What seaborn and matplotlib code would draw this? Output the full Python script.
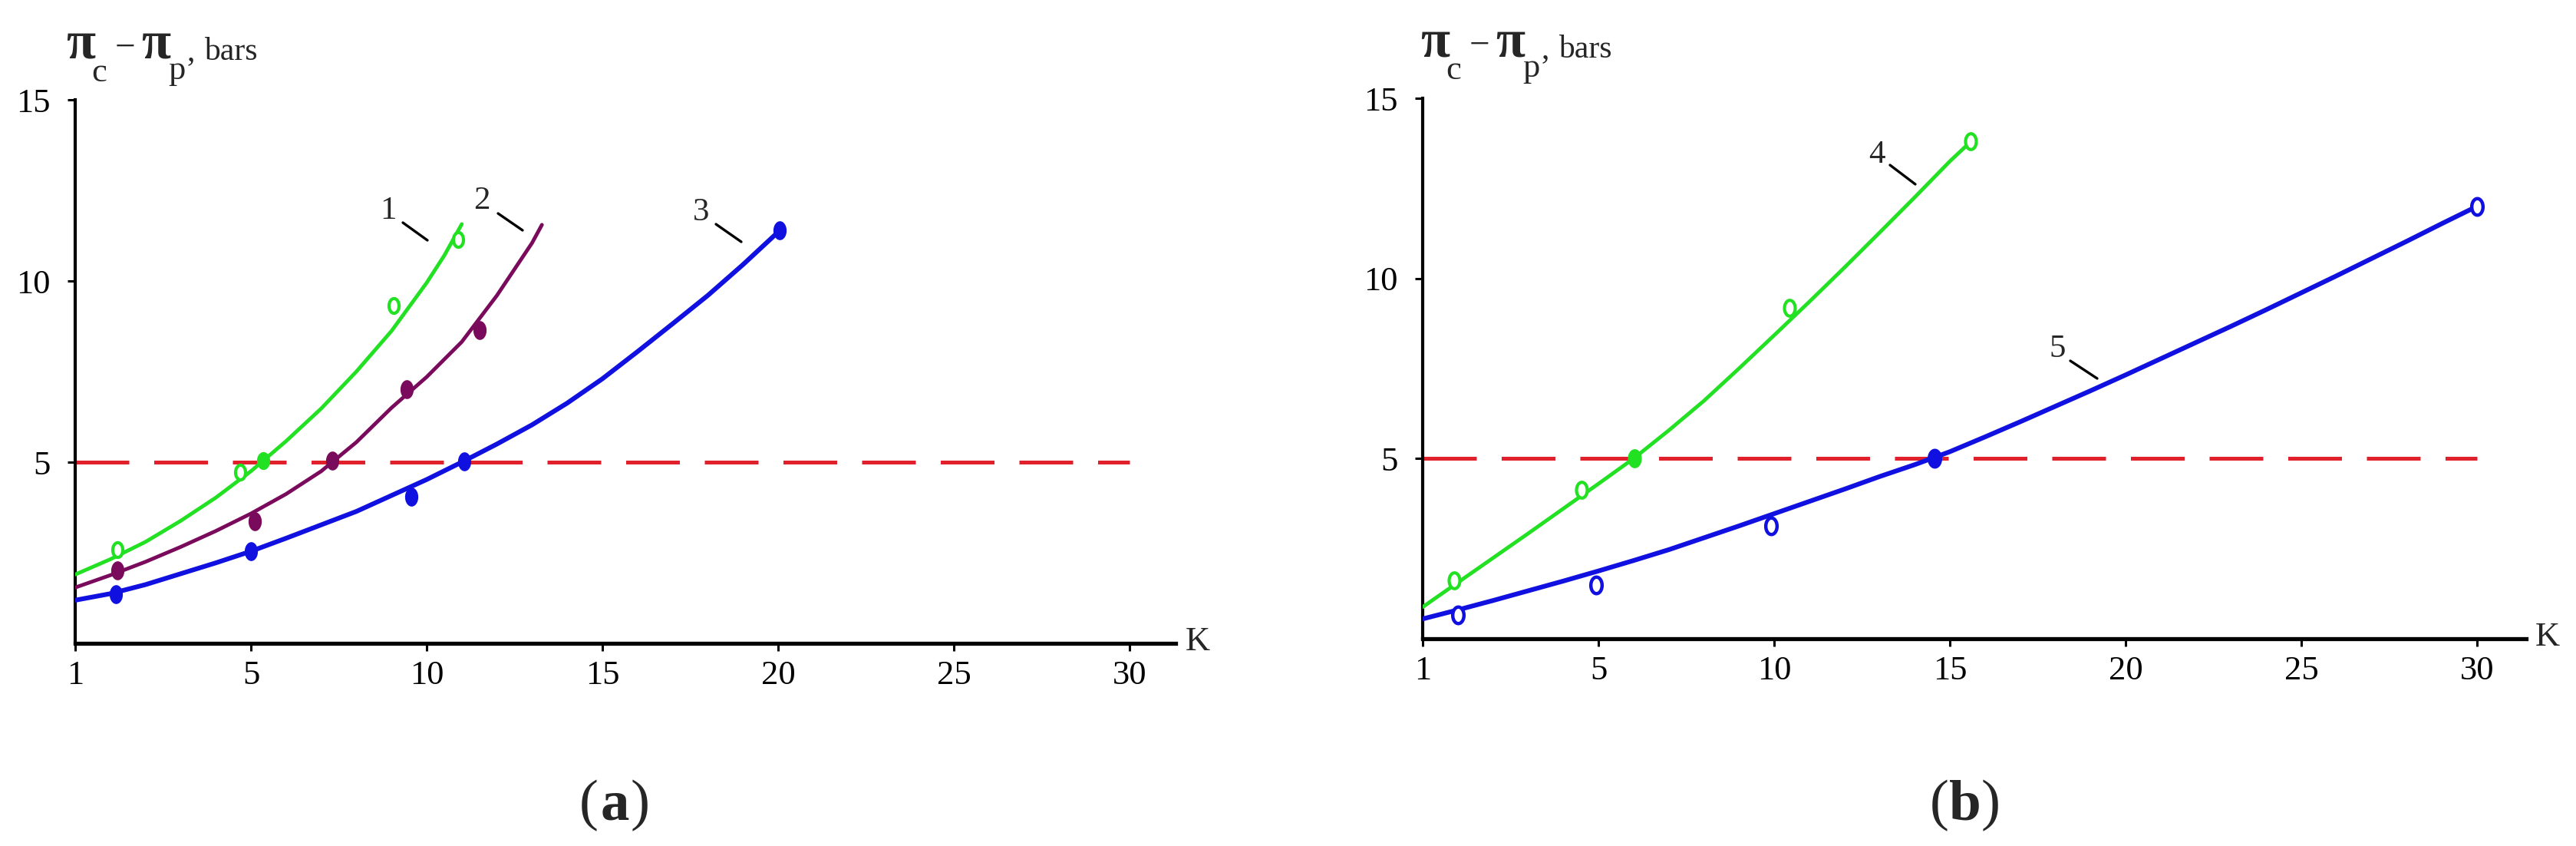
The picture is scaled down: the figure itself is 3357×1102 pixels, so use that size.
import numpy as np
import pandas as pd
import matplotlib
matplotlib.use("Agg")
import matplotlib.pyplot as plt
import seaborn as sns
from matplotlib.path import Path

# ---------------- data ----------------
# x is in axis units: the origin is labelled "1", then 5, 10, ... 30
x_tick_pos = [0, 5, 10, 15, 20, 25, 30]
x_tick_lab = ["1", "5", "10", "15", "20", "25", "30"]
y_tick_pos = [5, 10, 15]
threshold = 5.0

# panel (a) fitted curves
a1_curve_x = [0, 1, 2, 3, 4, 5, 6, 7, 8, 9, 10, 10.5, 11.0]
a1_curve_y = [1.9, 2.32, 2.8, 3.38, 4.02, 4.75, 5.58, 6.48, 7.5, 8.62, 9.95, 10.7, 11.57]
a2_curve_x = [0, 1, 2, 3, 4, 5, 6, 7, 8, 9, 10, 11, 12, 13, 13.28]
a2_curve_y = [1.54, 1.88, 2.25, 2.66, 3.1, 3.58, 4.12, 4.75, 5.55, 6.5, 7.35, 8.32, 9.6, 11.05, 11.55]
a3_curve_x = [0, 1, 2, 3, 4, 5, 6, 7, 8, 9, 10, 11, 12, 13, 14, 15, 16, 17, 18, 19, 20, 20.1]
a3_curve_y = [1.19, 1.37, 1.62, 1.92, 2.22, 2.54, 2.9, 3.27, 3.64, 4.08, 4.52, 5.0, 5.5, 6.03,
              6.63, 7.3, 8.05, 8.82, 9.6, 10.45, 11.35, 11.45]
# panel (a) measured points
a1_pts_x = [1.19, 4.7, 5.36, 9.06, 10.9]
a1_pts_y = [2.59, 4.73, 5.05, 9.32, 11.15]
a1_filled = [False, False, True, False, False]
a2_pts_x = [1.21, 5.1, 7.32, 9.44, 11.51]
a2_pts_y = [2.01, 3.36, 5.05, 7.02, 8.64]
a3_pts_x = [1.16, 5.01, 9.56, 11.07, 20.05]
a3_pts_y = [1.36, 2.54, 4.05, 5.02, 11.4]

# panel (b) fitted curves
b4_curve_x = [0, 1, 2, 3, 4, 5, 6, 7, 8, 9, 10, 11, 12, 13, 14, 15, 15.6]
b4_curve_y = [0.88, 1.56, 2.24, 2.92, 3.61, 4.3, 5.0, 5.78, 6.6, 7.5, 8.42, 9.35, 10.3,
              11.27, 12.25, 13.25, 13.8]
b5_curve_x = list(range(0, 31))
b5_curve_y = [0.55, 0.8, 1.06, 1.33, 1.6, 1.88, 2.17, 2.47, 2.8, 3.13, 3.47, 3.81, 4.15, 4.5,
              4.83, 5.19, 5.6, 6.02, 6.45, 6.88, 7.32, 7.77, 8.22, 8.67, 9.13, 9.6, 10.07,
              10.55, 11.03, 11.52, 12.0]
# panel (b) measured points
b4_pts_x = [0.89, 4.52, 6.03, 10.44, 15.6]
b4_pts_y = [1.62, 4.13, 5.0, 9.18, 13.8]
b4_filled = [False, False, True, False, False]
b5_pts_x = [1.01, 4.93, 9.91, 14.56, 30.0]
b5_pts_y = [0.65, 1.5, 3.13, 5.0, 12.0]
b5_filled = [False, False, False, True, False]

curve_labels_a = ["1", "2", "3"]
curve_labels_b = ["4", "5"]

# ---------------- style ----------------
GREEN = "#22E022"
PURPLE = "#7A0A5C"
BLUE = "#1010E0"
RED = "#E0202A"

sns.set_theme(style="white")
plt.rcParams["font.family"] = ["Liberation Serif", "DejaVu Serif"]

W, H = 3357, 1102
fig = plt.figure(figsize=(W / 100, H / 100), dpi=100)
fig.patch.set_facecolor("white")

ax_a = fig.add_axes([98 / W, 1 - 838 / H, 1433.5 / W, 708 / H])
ax_b = fig.add_axes([1854 / W, 1 - 832 / H, 1438 / W, 704 / H])

t = np.linspace(0, 2 * np.pi, 48)
ellipse = Path(np.column_stack([0.68 * np.cos(t), np.sin(t)]), closed=True)


def style_axes(ax, xmax):
    ax.set_xlim(0, xmax)
    ax.set_ylim(0, 15)
    for s in ("top", "right"):
        ax.spines[s].set_visible(False)
    ax.spines["left"].set_linewidth(3)
    ax.spines["bottom"].set_linewidth(3.8)
    ax.spines["left"].set_color("black")
    ax.spines["bottom"].set_color("black")
    ax.set_xticks(x_tick_pos)
    ax.set_xticklabels(x_tick_lab)
    ax.set_yticks(y_tick_pos)
    ax.set_yticklabels([str(v) for v in y_tick_pos])
    ax.tick_params(axis="x", direction="out", length=7, width=2.2, pad=9,
                   labelsize=32, colors="black", bottom=True)
    ax.tick_params(axis="y", direction="out", length=7, width=2.2, pad=16,
                   labelsize=32, colors="black", left=True)
    ax.set_xlabel("")
    ax.set_ylabel("")
    ax.grid(False)
    ax.set_facecolor("white")


def draw_curve(ax, xs, ys, color, lw):
    df = pd.DataFrame({"x": xs, "y": ys})
    sns.lineplot(data=df, x="x", y="y", ax=ax, color=color, linewidth=lw,
                 estimator=None, sort=False, zorder=3)


def draw_points(ax, xs, ys, color, filled, size, ew):
    df = pd.DataFrame({"x": xs, "y": ys, "f": filled})
    for is_filled, sub in df.groupby("f"):
        sns.scatterplot(data=sub, x="x", y="y", ax=ax, marker=ellipse, s=size,
                        facecolor=color if is_filled else "white",
                        edgecolor=color, linewidth=ew, zorder=4, clip_on=False)


# ---------------- panel (a) ----------------
ax_a.hlines(threshold, 0, 30, colors=RED, linewidth=3.6,
            linestyles=(0, (14, 6.5)), zorder=2)
draw_curve(ax_a, a1_curve_x, a1_curve_y, GREEN, 3.5)
draw_curve(ax_a, a2_curve_x, a2_curve_y, PURPLE, 3.5)
draw_curve(ax_a, a3_curve_x, a3_curve_y, BLUE, 4.4)
draw_points(ax_a, a1_pts_x, a1_pts_y, GREEN, a1_filled, 190, 3.0)
draw_points(ax_a, a2_pts_x, a2_pts_y, PURPLE, [True] * 5, 280, 1.0)
draw_points(ax_a, a3_pts_x, a3_pts_y, BLUE, [True] * 5, 280, 1.0)
style_axes(ax_a, 31.3)

# ---------------- panel (b) ----------------
ax_b.hlines(threshold, 0, 30, colors=RED, linewidth=3.6,
            linestyles=(0, (14, 6.5)), zorder=2)
draw_curve(ax_b, b4_curve_x, b4_curve_y, GREEN, 3.5)
draw_curve(ax_b, b5_curve_x, b5_curve_y, BLUE, 4.4)
draw_points(ax_b, b4_pts_x, b4_pts_y, GREEN, b4_filled, 220, 3.0)
draw_points(ax_b, b5_pts_x, b5_pts_y, BLUE, b5_filled, 240, 3.2)
style_axes(ax_b, 31.4)


# ---------------- texts ----------------
def ftext(px, py, s, **kw):
    fig.text(px / W, 1 - py / H, s, **kw)


def fline(x0, y0, x1, y1):
    fig.add_artist(plt.Line2D([x0 / W, x1 / W], [1 - y0 / H, 1 - y1 / H],
                              color="black", linewidth=2.4, transform=fig.transFigure))


def y_label(dx, dy):
    # built from pieces: bold pi, subscripts, minus sign and unit
    ftext(86 + dx, 76 + dy, "π", fontsize=50, fontweight="bold", va="baseline", ha="left")
    ftext(119 + dx, 106 + dy, "c", fontsize=32, va="baseline", ha="left")
    ftext(163 + dx, 63 + dy, "−", fontsize=34, va="center", ha="center")
    ftext(184 + dx, 76 + dy, "π", fontsize=50, fontweight="bold", va="baseline", ha="left")
    ftext(219 + dx, 103 + dy, "p", fontsize=32, va="baseline", ha="left")
    ftext(243 + dx, 78 + dy, ",", fontsize=30, va="baseline", ha="left")
    ftext(266 + dx, 78 + dy, "bars", fontsize=30, va="baseline", ha="left")


y_label(0, 0)
y_label(1765, -3)

ftext(1561, 836, "K", fontsize=32, va="center", ha="center")
ftext(3320, 830, "K", fontsize=32, va="center", ha="center")

# curve labels with leader strokes
ftext(506, 275, curve_labels_a[0], fontsize=31, va="center", ha="center")
fline(525, 290, 557, 313)
ftext(628, 262, curve_labels_a[1], fontsize=31, va="center", ha="center")
fline(649, 278, 681, 300)
ftext(914, 277, curve_labels_a[2], fontsize=31, va="center", ha="center")
fline(933, 292, 966, 315)
ftext(2446, 202, curve_labels_b[0], fontsize=31, va="center", ha="center")
fline(2463, 215, 2496, 240)
ftext(2681, 455, curve_labels_b[1], fontsize=31, va="center", ha="center")
fline(2698, 470, 2733, 493)


# panel captions
def caption(cx, cy, letter):
    ftext(cx - 21, cy, "(", fontsize=54, va="center", ha="right")
    ftext(cx, cy, letter, fontsize=54, fontweight="bold", va="center", ha="center")
    ftext(cx + 21, cy, ")", fontsize=54, va="center", ha="left")


caption(801, 1049, "a")
caption(2561, 1049, "b")

fig.savefig("out.png", dpi=100, facecolor="white")
